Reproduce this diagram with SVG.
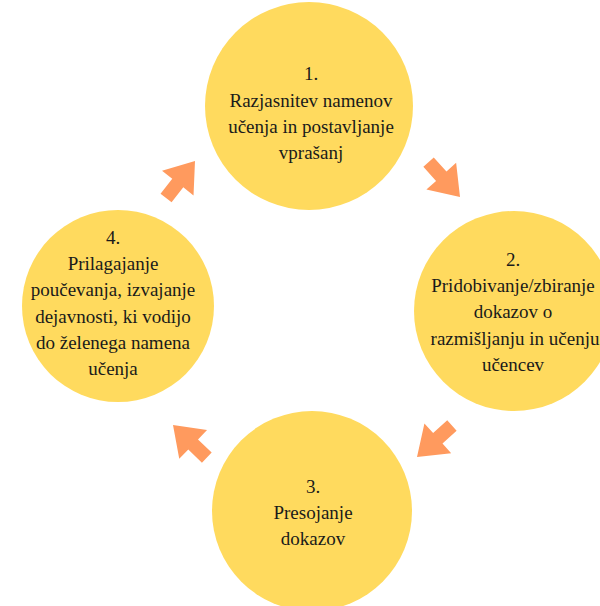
<svg xmlns="http://www.w3.org/2000/svg" width="600" height="606" viewBox="0 0 600 606">
<style>
.c{fill:#FFDA5E}
.a{fill:#FF9A5E}
text{font-family:"Liberation Serif","Times New Roman",serif;font-size:19px;fill:#1a1a1a;text-anchor:middle}
</style>
<defs>
<path id="arr" d="M0,0 L-28,-20 L-28,-7 L-47,-7 L-47,7 L-28,7 L-28,20 Z"/>
</defs>
<rect width="600" height="606" fill="#ffffff"/>
<g id="connectors">
<use href="#arr" class="a" transform="translate(195,161) rotate(-52)"/>
<use href="#arr" class="a" transform="translate(460,197) rotate(48)"/>
<use href="#arr" class="a" transform="translate(417,457) rotate(138)"/>
<use href="#arr" class="a" transform="translate(173,425) rotate(224)"/>
</g>
<g id="node1">
<circle class="c" cx="309" cy="106" r="104"/>
<text x="311" y="80">1.</text>
<text x="311" y="107">Razjasnitev namenov</text>
<text x="311" y="133">učenja in postavljanje</text>
<text x="311" y="159">vprašanj</text>
</g>
<g id="node2">
<circle class="c" cx="514" cy="311" r="100"/>
<text x="513" y="266">2.</text>
<text x="513" y="292">Pridobivanje/zbiranje</text>
<text x="513" y="318">dokazov o</text>
<text x="515" y="345">razmišljanju in učenju</text>
<text x="513" y="371">učencev</text>
</g>
<g id="node3">
<circle class="c" cx="312" cy="511" r="100"/>
<text x="313" y="493">3.</text>
<text x="313" y="519">Presojanje</text>
<text x="313" y="545">dokazov</text>
</g>
<g id="node4">
<circle class="c" cx="118" cy="306" r="96"/>
<text x="113" y="244">4.</text>
<text x="113" y="270">Prilagajanje</text>
<text x="113" y="296">poučevanja, izvajanje</text>
<text x="113" y="323">dejavnosti, ki vodijo</text>
<text x="113" y="349">do želenega namena</text>
<text x="113" y="375">učenja</text>
</g>
</svg>
